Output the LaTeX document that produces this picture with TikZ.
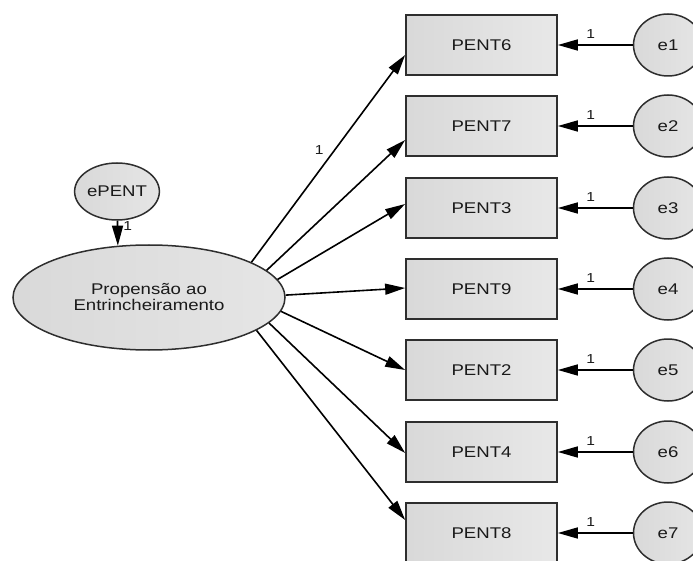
\documentclass[tikz,border=0pt]{standalone}
\usepackage{fontspec}
\setmainfont{Liberation Sans}[FakeStretch=1.2]
\usetikzlibrary{arrows.meta,shapes.geometric}
\definecolor{edgegray}{HTML}{2E2E2E}
\definecolor{txt}{HTML}{1A1A1A}

\begin{document}
\begin{tikzpicture}[x=1pt,y=-1pt,
  every node/.style={font=\fontsize{15.5}{16}\selectfont, text=txt},
  obs/.style={draw=edgegray, line width=1.7pt, left color=black!15, right color=black!9,
              minimum width=151pt, minimum height=60pt, inner sep=0pt},
  latent/.style={ellipse, draw=edgegray, line width=1.5pt, left color=black!15,
                 right color=black!10, inner sep=0pt},
  link/.style={line width=1.6pt, -{Triangle[length=20pt,width=11pt]}},
  wlbl/.style={font=\fontsize{13}{13}\selectfont, inner sep=0pt}
]
\useasboundingbox (0,0) rectangle (693,561);
\clip (0,0) rectangle (693,561);

% latent factor and its disturbance
\node[latent, minimum width=272pt, minimum height=105pt, align=center] (F) at (149,297.5)
  {Propensão ao\\Entrincheiramento};
\node[latent, minimum width=68pt, minimum height=57pt] (EP) at (117,191.5) {ePENT};

% observed indicators
\node[obs] (P6) at (481.5,45)  {PENT6};
\node[obs] (P7) at (481.5,126) {PENT7};
\node[obs] (P3) at (481.5,208) {PENT3};
\node[obs] (P9) at (481.5,289) {PENT9};
\node[obs] (P2) at (481.5,370) {PENT2};
\node[obs] (P4) at (481.5,452) {PENT4};
\node[obs] (P8) at (481.5,533) {PENT8};

% measurement errors
\foreach \n/\b in {1/P6,2/P7,3/P3,4/P9,5/P2,6/P4,7/P8}{
  \path (\b.center) ++(186.5,0) node[latent, minimum width=69pt, minimum height=62pt] (E\n) {e\n};
  \draw[link] (E\n) -- node[wlbl, pos=0.56, above=6pt] {1} (\b);
}

% disturbance path
\draw[link] (EP) -- node[wlbl, pos=0.2, right=5pt] {1} (F.121);

% factor loadings
\draw[link] (F.19.4) -- node[wlbl, pos=0.54, left=10pt] {1} ([yshift=-10pt]P6.west);
\draw[link] (F.13.8) -- ([yshift=-14pt]P7.west);
\draw[link] (F.8.8)  -- ([yshift=4pt]P3.west);
\draw[link] (F.1.1)  -- ([yshift=1pt]P9.west);
\draw[link] (F.-6.4) -- (P2.west);
\draw[link] (F.-12.2) -- ([yshift=-1pt]P4.west);
\draw[link] (F.-17.1) -- ([yshift=13pt]P8.west);
\end{tikzpicture}
\end{document}
